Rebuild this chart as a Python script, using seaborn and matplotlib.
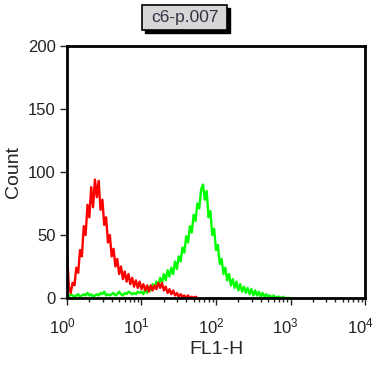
import matplotlib
matplotlib.use("Agg")
import matplotlib.pyplot as plt
import matplotlib.patches as mpatches
import matplotlib.ticker as mticker
import matplotlib.transforms as mtransforms
import numpy as np
import pandas as pd
import seaborn as sns

# histogram counts, one value per 1/40 decade of FL1-H
LOG_STEP = 0.025

red_counts = [
    37, 9, 4, 12, 10, 24, 20, 38, 33, 57,
    50, 74, 64, 88, 72, 94, 80, 93, 70, 78,
    58, 64, 44, 50, 33, 39, 25, 31, 19, 25,
    15, 21, 13, 19, 11, 16, 9, 14, 8, 13,
    7, 11, 6, 10, 5, 10, 6, 10, 7, 12,
    8, 12, 6, 9, 4, 7, 3, 6, 2, 4,
    1, 3, 1, 2, 0, 2, 0, 1, 0, 1,
    0,
]

green_counts = [
    2, 1, 3, 2, 1, 2, 3, 1, 2, 3,
    2, 4, 2, 3, 1, 2, 3, 2, 4, 3,
    5, 2, 3, 2, 3, 4, 2, 3, 5, 3,
    2, 4, 3, 5, 4, 3, 4, 3, 5, 4,
    5, 3, 7, 4, 9, 6, 11, 8, 13, 10,
    16, 12, 19, 14, 22, 17, 24, 19, 29, 23,
    33, 29, 40, 36, 49, 44, 57, 52, 66, 61,
    75, 71, 86, 90, 78, 85, 64, 69, 50, 55,
    38, 42, 27, 31, 19, 24, 14, 19, 10, 15,
    8, 13, 6, 11, 5, 9, 4, 8, 3, 7,
    2, 6, 2, 5, 1, 4, 1, 3, 1, 2,
    0, 2, 0, 1, 1, 0, 1, 0, 0, 0,
    0,
]

y_ticks = [0, 50, 100, 150, 200]
x_decades = [0, 1, 2, 3, 4]
sample_name = "c6-p.007"


def _frame(counts, name):
    fl1 = 10 ** (np.arange(len(counts)) * LOG_STEP)
    return pd.DataFrame({"FL1-H": fl1, "Count": counts, "sample": name})


sns.set_style("ticks")
plt.rcParams["font.family"] = ["Liberation Sans", "DejaVu Sans"]

fig = plt.figure(figsize=(3.73, 3.65), dpi=100)
ax = fig.add_axes([0.1796, 0.1836, 0.799, 0.6904])

sns.lineplot(data=_frame(green_counts, "green"), x="FL1-H", y="Count",
             color="#00ff00", lw=1.7, ax=ax)
sns.lineplot(data=_frame(red_counts, "red"), x="FL1-H", y="Count",
             color="#ff0000", lw=1.7, ax=ax)

ax.set_xscale("log")
ax.set_xlim(10 ** x_decades[0], 10 ** x_decades[-1])
ax.set_ylim(y_ticks[0], y_ticks[-1])
ax.set_yticks(y_ticks)
ax.set_xticks([10 ** d for d in x_decades])
ax.xaxis.set_major_formatter(
    mticker.FuncFormatter(lambda v, _: r"$\mathregular{10^{%d}}$" % round(np.log10(v))))
ax.xaxis.set_minor_locator(mticker.LogLocator(base=10, subs=np.arange(2, 10)))
ax.xaxis.set_minor_formatter(mticker.NullFormatter())

for side in ["left", "right", "top", "bottom"]:
    ax.spines[side].set_visible(True)
    ax.spines[side].set_linewidth(2)
    ax.spines[side].set_color("black")

ax.tick_params(axis="both", which="major", length=5, width=1, labelsize=12,
               colors="#222222", pad=8)
ax.tick_params(axis="x", which="minor", length=3, width=1, colors="#222222")
ax.tick_params(axis="y", pad=3)

# x tick labels sit a little left of their ticks in the reference
shift = mtransforms.ScaledTranslation(-0.05, 0, fig.dpi_scale_trans)
for lab in ax.get_xticklabels():
    lab.set_transform(lab.get_transform() + shift)

ax.set_xlabel("FL1-H", fontsize=14, labelpad=4)
ax.set_ylabel("Count", fontsize=14, labelpad=4)

# title box with drop shadow
bx, by, bw, bh = 142 / 373, 1 - 30 / 365, 85 / 373, 25 / 365
fig.patches.append(mpatches.Rectangle((bx + 3 / 373, by - 3 / 365), bw, bh,
                                      transform=fig.transFigure, facecolor="black",
                                      edgecolor="black", zorder=1))
fig.patches.append(mpatches.Rectangle((bx, by), bw, bh, transform=fig.transFigure,
                                      facecolor="#d6d6d6", edgecolor="black", lw=1.2,
                                      zorder=2))
fig.text(bx + bw / 2, by + bh / 2, sample_name, fontsize=12.5, color="#333344",
         ha="center", va="center", zorder=3)

fig.savefig("out.png", dpi=100)
